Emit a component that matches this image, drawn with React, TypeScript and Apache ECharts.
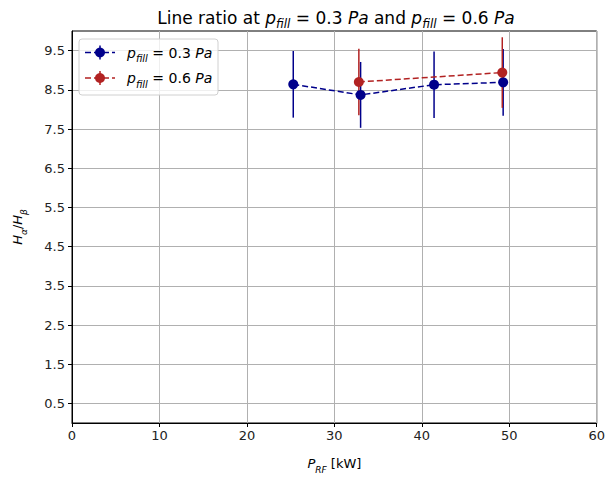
import React, { useEffect, useRef } from "react";
import * as echarts from "echarts";

const xTicks = [0, 10, 20, 30, 40, 50, 60];
const yTicks = [0.5, 1.5, 2.5, 3.5, 4.5, 5.5, 6.5, 7.5, 8.5, 9.5];

const powerLow = [25.3, 33.0, 41.4, 49.3];
const ratioLow = [8.64, 8.37, 8.63, 8.69];
const errLow = [0.85, 0.84, 0.85, 0.85];

const powerHigh = [32.8, 49.2];
const ratioHigh = [8.7, 8.94];
const errHigh = [0.85, 0.9];

const BLUE = "#00008b";
const RED = "#b22222";
const FONT = "DejaVu Sans";

const mathRich = (fs: number) => ({
  n: { fontFamily: FONT, fontSize: fs, fontWeight: "normal", color: "#000", lineHeight: fs + 8, verticalAlign: "middle" },
  i: { fontFamily: FONT, fontSize: fs, fontWeight: "normal", fontStyle: "italic", color: "#000", lineHeight: fs + 8, verticalAlign: "middle" },
  sub: { fontFamily: FONT, fontSize: Math.round(fs * 0.7), fontWeight: "normal", fontStyle: "italic", color: "#000", lineHeight: Math.round(fs * 0.75), verticalAlign: "bottom" },
});

function errorSeries(name: string, xs: number[], ys: number[], es: number[], color: string) {
  return {
    name: name + "_err",
    type: "custom",
    z: 2,
    data: xs.map((x, k) => [x, ys[k] - es[k], ys[k] + es[k]]),
    encode: { x: 0, y: [1, 2] },
    renderItem: (params: any, api: any) => {
      const p1 = api.coord([api.value(0), api.value(1)]);
      const p2 = api.coord([api.value(0), api.value(2)]);
      return {
        type: "line",
        shape: { x1: p1[0], y1: p1[1], x2: p2[0], y2: p2[1] },
        style: { stroke: color, lineWidth: 1.5 },
      };
    },
  };
}

function lineSeries(name: string, xs: number[], ys: number[], color: string) {
  return {
    name,
    type: "line",
    z: 3,
    data: xs.map((x, k) => [x, ys[k]]),
    symbol: "circle",
    symbolSize: 10,
    itemStyle: { color },
    lineStyle: { color, width: 1.5, type: [6, 3] },
  };
}

function legendItem(y: number, color: string, label: string) {
  return [
    { type: "line", z: 101, shape: { x1: 85, y1: y, x2: 115, y2: y }, style: { stroke: color, lineWidth: 1.5, lineDash: [6, 3] } },
    { type: "line", z: 101, shape: { x1: 100, y1: y - 7, x2: 100, y2: y + 7 }, style: { stroke: color, lineWidth: 1.5 } },
    { type: "circle", z: 102, shape: { cx: 100, cy: y, r: 5 }, style: { fill: color } },
    {
      type: "text",
      z: 101,
      x: 127,
      y: y,
      style: {
        text: label,
        rich: mathRich(14),
        verticalAlign: "middle",
        align: "left",
      },
    },
  ];
}

export default function App() {
  const ref = useRef<HTMLDivElement>(null);
  useEffect(() => {
    if (!ref.current) return;
    document.body.style.margin = "0";
    document.body.style.overflow = "hidden";
    document.documentElement.style.overflow = "hidden";
    const chart = echarts.init(ref.current, null, { renderer: "svg", width: 608, height: 479 });
    const axisLabelStyle = { fontFamily: FONT, fontSize: 13, color: "#222" };
    chart.setOption({
      animation: false,
      title: {
        text: "{n|Line ratio at }{i|p}{sub|fill}{n| = 0.3 }{i|Pa}{n| and }{i|p}{sub|fill}{n| = 0.6 }{i|Pa}",
        left: 331,
        textAlign: "center",
        top: 0,
        textStyle: { fontWeight: "normal", rich: mathRich(17) },
      },
      grid: { left: 72, right: 8, top: 31, bottom: 52, show: true, borderColor: "#000", borderWidth: 1, backgroundColor: "transparent" },
      xAxis: {
        type: "value",
        min: 0,
        max: 60,
        interval: 10,
        axisLine: { show: true, onZero: false, lineStyle: { color: "#000", width: 1 } },
        axisTick: { show: true, length: 4, lineStyle: { color: "#000" } },
        axisLabel: { ...axisLabelStyle, margin: 6, formatter: (v: number) => (xTicks.includes(v) ? String(v) : "") },
        splitLine: { show: true, lineStyle: { color: "#b0b0b0", width: 1 } },
        name: "{i|P}{sub|RF}{n| [kW]}",
        nameLocation: "middle",
        nameGap: 30,
        nameTextStyle: { rich: mathRich(13) },
      },
      yAxis: {
        type: "value",
        min: 0,
        max: 10,
        axisLine: { show: true, onZero: false, lineStyle: { color: "#000", width: 1 } },
        axisTick: { show: true, length: 4, lineStyle: { color: "#000" }, customValues: yTicks },
        axisLabel: { ...axisLabelStyle, margin: 7, customValues: yTicks, formatter: (v: number) => v.toFixed(1) },
        splitLine: { show: true, lineStyle: { color: "#b0b0b0", width: 1 } },
        name: "{i|H}{sub|α}{n|/}{i|H}{sub|β}",
        nameLocation: "middle",
        nameRotate: 90,
        nameGap: 44,
        nameTextStyle: { rich: mathRich(13) },
      },
      series: [
        errorSeries("low", powerLow, ratioLow, errLow, BLUE),
        lineSeries("low", powerLow, ratioLow, BLUE),
        errorSeries("high", powerHigh, ratioHigh, errHigh, RED),
        lineSeries("high", powerHigh, ratioHigh, RED),
      ],
      graphic: [
        {
          type: "rect",
          z: 100,
          shape: { x: 79, y: 39, width: 139, height: 56, r: 3 },
          style: { fill: "rgba(255,255,255,0.8)", stroke: "#d0d0d0", lineWidth: 1 },
        },
        ...legendItem(52.5, BLUE, "{i|p}{sub|fill}{n| = 0.3 }{i|Pa}"),
        ...legendItem(78, RED, "{i|p}{sub|fill}{n| = 0.6 }{i|Pa}"),
      ],
    });
    return () => chart.dispose();
  }, []);
  return <div ref={ref} style={{ position: "absolute", left: 0, top: 0, width: 608, height: 479 }} />;
}
